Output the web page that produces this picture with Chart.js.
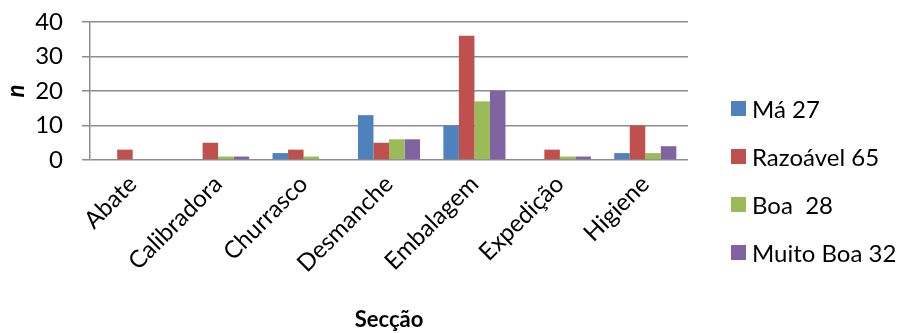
<!DOCTYPE html>
<html>
<head>
<meta charset="utf-8">
<script src="https://cdn.jsdelivr.net/npm/chart.js@4"></script>
<style>
  html, body { margin: 0; padding: 0; background: #fff; }
  #wrap { position: relative; width: 901px; height: 333px; }
  #legend { position: absolute; left: 731px; top: 0; font-family: Lato, sans-serif; font-size: 24px; color: #000; }
  #legend div { position: absolute; white-space: pre; display: flex; align-items: center; height: 30px; }
  #legend span.box { display: inline-block; width: 15px; height: 15px; margin-right: 6px; }
</style>
</head>
<body>
<div id="wrap">
  <canvas id="myChart" width="901" height="333"></canvas>
  <div id="legend"></div>
</div>
<script>
const categories = ["Abate", "Calibradora", "Churrasco", "Desmanche", "Embalagem", "Expedição", "Higiene"];
const seriesNames = ["Má 27", "Razoável 65", "Boa  28", "Muito Boa 32"];
const ma = [0, 0, 2, 13, 10, 0, 2];
const razoavel = [3, 5, 3, 5, 36, 3, 10];
const boa = [0, 1, 1, 6, 17, 1, 2];
const muitoBoa = [0, 1, 0, 6, 20, 1, 4];
const yTicks = [0, 10, 20, 30, 40];
const colors = ["#4F81BD", "#C0504D", "#9BBB59", "#8064A2"];

const font = "Lato, sans-serif";
const ctx = document.getElementById("myChart").getContext("2d");
const data = {
  labels: categories,
  datasets: [ma, razoavel, boa, muitoBoa].map((vals, i) => ({
    label: seriesNames[i],
    data: vals,
    backgroundColor: colors[i],
    categoryPercentage: 0.727,
    barPercentage: 1,
  })),
};
const config = {
  type: "bar",
  data: data,
  options: {
    responsive: false,
    animation: false,
    layout: {
      padding: { left: 0, top: 0, right: 213, bottom: 0 },
    },
    plugins: {
      legend: { display: false },
      tooltip: { enabled: false },
    },
    scales: {
      x: {
        grid: { display: false },
        border: { display: false },
        afterFit: (axis) => { axis.height = 173; },
        ticks: {
          color: "#000",
          font: { family: font, size: 24 },
          maxRotation: 45,
          minRotation: 45,
          padding: 2,
        },
        title: {
          display: true,
          text: "Secção",
          color: "#000",
          font: { family: font, size: 22, weight: "bold" },
          padding: { top: 4, bottom: 0 },
        },
      },
      y: {
        min: 0,
        max: 40,
        afterBuildTicks: (axis) => { axis.ticks = yTicks.map((v) => ({ value: v })); },
        afterFit: (axis) => { axis.width = 90; axis.paddingTop = 22; axis.paddingBottom = 0; },
        grid: { color: "#8c8c8c", lineWidth: 1.5, tickLength: 8 },
        border: { display: true, color: "#8c8c8c", width: 1.5 },
        ticks: {
          color: "#000",
          font: { family: font, size: 24 },
          padding: 19,
          autoSkip: false,
        },
        title: {
          display: true,
          text: "n",
          color: "#000",
          font: { family: font, size: 24, weight: "bold", style: "italic" },
          padding: { top: 2, bottom: 0 },
        },
      },
    },
  },
};
const myChart = new Chart(ctx, config);

// legend on the right, built from the datasets
const legendCenters = [108.5, 156.5, 204.5, 252.5];
const legend = document.getElementById("legend");
myChart.data.datasets.forEach((ds, i) => {
  const item = document.createElement("div");
  item.style.top = (legendCenters[i] - 15) + "px";
  item.innerHTML = '<span class="box" style="background:' + ds.backgroundColor + '"></span>' + ds.label;
  legend.appendChild(item);
});
</script>
</body>
</html>
